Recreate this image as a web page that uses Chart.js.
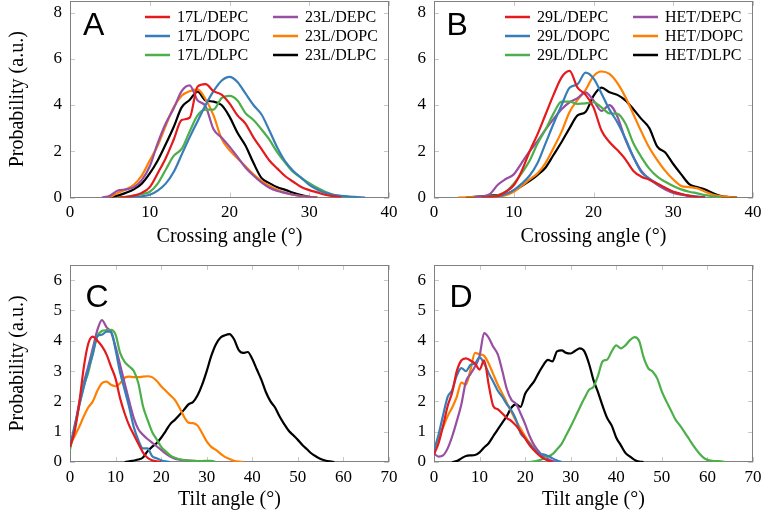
<!DOCTYPE html>
<html>
<head>
<meta charset="utf-8">
<script src="https://cdn.jsdelivr.net/npm/chart.js@4.4.0/dist/chart.umd.min.js"></script>
<style>
  html, body { margin: 0; padding: 0; background: #fff; }
  #wrap { position: relative; width: 768px; height: 518px; overflow: hidden; }
  canvas { position: absolute; }
</style>
</head>
<body>
<div id="wrap">
  <canvas id="chartA" width="400" height="252" style="left:0;top:0"></canvas>
  <canvas id="chartB" width="368" height="252" style="left:400px;top:0"></canvas>
  <canvas id="chartC" width="400" height="263" style="left:0;top:255px"></canvas>
  <canvas id="chartD" width="368" height="263" style="left:400px;top:255px"></canvas>
</div>
<script>
// ---------- DATOS ----------
const xTicksCrossing = [0, 10, 20, 30, 40];
const yTicksCrossing = [0, 2, 4, 6, 8];
const xTicksTilt = [0, 10, 20, 30, 40, 50, 60, 70];
const yTicksTilt = [0, 1, 2, 3, 4, 5, 6];

const labelsA = ['17L/DEPC', '17L/DOPC', '17L/DLPC', '23L/DEPC', '23L/DOPC', '23L/DLPC'];
const labelsB = ['29L/DEPC', '29L/DOPC', '29L/DLPC', 'HET/DEPC', 'HET/DOPC', 'HET/DLPC'];
const colores = ['#e41a1c', '#377eb8', '#4daf4a', '#984ea3', '#ff7f00', '#000000'];

// angle (deg) of the first value of each curve, values go in 1 deg steps
const startA = [6, 7, 6, 4, 5, 5];
const cross17lDepc = [0, 0.02, 0.08, 0.2, 0.45, 1.05, 1.7, 2.5, 3.35, 3.45, 4.8, 4.9, 4.6, 4.45, 4.07, 3.55, 3.2, 2.6, 2.1, 1.6, 1.25, 0.92, 0.68, 0.45, 0.32, 0.22, 0.12, 0.06, 0.02];
const cross17lDopc = [0, 0.02, 0.05, 0.12, 0.3, 0.6, 1.1, 1.85, 2.6, 3.3, 4.0, 4.6, 5.05, 5.22, 5.0, 4.5, 4.0, 3.6, 2.9, 2.15, 1.55, 1.15, 0.85, 0.55, 0.35, 0.2, 0.12, 0.07, 0.04, 0.02, 0];
const cross17lDlpc = [0, 0.03, 0.08, 0.15, 0.25, 0.6, 1.2, 1.8, 2.1, 2.85, 3.55, 3.8, 3.8, 4.3, 4.4, 4.2, 3.65, 3.35, 2.95, 2.5, 1.95, 1.5, 1.1, 0.85, 0.62, 0.42, 0.25, 0.12, 0.06, 0.03, 0];
const cross23lDepc = [0, 0.08, 0.3, 0.35, 0.45, 0.75, 1.35, 2.35, 3.2, 3.85, 4.6, 4.85, 4.2, 3.95, 2.95, 2.6, 2.2, 1.75, 1.3, 0.95, 0.65, 0.42, 0.28, 0.2, 0.12, 0.06, 0.02, 0];
const cross23lDopc = [0, 0.2, 0.35, 0.55, 0.95, 1.6, 2.25, 3.1, 3.9, 4.4, 4.6, 4.68, 4.25, 3.55, 2.55, 2.05, 1.7, 1.35, 1.0, 0.72, 0.5, 0.33, 0.2, 0.12, 0.06, 0.02, 0];
const cross23lDlpc = [0, 0.08, 0.2, 0.35, 0.6, 1.04, 1.6, 2.3, 3.05, 3.9, 4.22, 4.58, 4.2, 4.15, 4.0, 3.5, 2.8, 2.25, 1.5, 0.85, 0.62, 0.44, 0.33, 0.2, 0.1, 0.03, 0];

const startB = [6, 6, 6, 5, 3, 4];
const cross29lDepc = [0, 0.02, 0.07, 0.25, 0.53, 1.15, 2.0, 2.75, 3.6, 4.45, 5.2, 5.48, 4.75, 4.45, 3.9, 2.9, 2.4, 2.05, 1.65, 1.15, 0.9, 0.77, 0.6, 0.42, 0.25, 0.15, 0.07, 0.02, 0];
const cross29lDopc = [0, 0.02, 0.05, 0.15, 0.32, 0.6, 0.95, 1.5, 2.35, 3.2, 4.0, 4.75, 4.9, 5.4, 5.15, 4.5, 3.8, 3.25, 2.55, 1.75, 1.1, 0.82, 0.6, 0.4, 0.25, 0.15, 0.08, 0.04, 0];
const cross29lDlpc = [0, 0.03, 0.1, 0.25, 0.6, 1.05, 1.6, 2.35, 2.95, 3.64, 4.15, 4.15, 4.05, 4.07, 4.12, 3.9, 3.64, 3.62, 3.2, 2.35, 1.75, 1.25, 0.9, 0.68, 0.5, 0.35, 0.25, 0.18, 0.1, 0.05, 0];
const crossHetDepc = [0, 0.05, 0.15, 0.55, 0.8, 1.0, 1.5, 2.0, 2.45, 2.95, 3.4, 3.82, 4.12, 4.3, 4.55, 4.2, 3.75, 4.0, 3.5, 2.5, 1.75, 1.15, 0.8, 0.55, 0.35, 0.2, 0.12, 0.06, 0.03, 0];
const crossHetDopc = [0, 0.01, 0.02, 0.03, 0.04, 0.05, 0.1, 0.25, 0.5, 0.78, 1.05, 1.5, 2.15, 2.85, 3.7, 4.22, 4.65, 5.25, 5.45, 5.35, 4.95, 4.35, 3.6, 2.85, 2.15, 1.62, 1.15, 0.78, 0.5, 0.45, 0.4, 0.25, 0.12, 0.05, 0.02, 0];
const crossHetDlpc = [0, 0.03, 0.05, 0.08, 0.1, 0.14, 0.3, 0.5, 0.72, 0.98, 1.3, 1.85, 2.4, 3.0, 3.55, 3.7, 4.4, 4.75, 4.55, 4.44, 4.2, 3.82, 3.4, 3.0, 2.2, 1.95, 1.45, 1.0, 0.58, 0.45, 0.35, 0.18, 0.06, 0.02, 0];

const startC = [0, 0, 0, 0, 0, 12];
const tilt17lDepc = [0.5, 1.0, 1.9, 3.1, 3.9, 4.14, 4.0, 3.82, 3.55, 3.15, 2.75, 2.1, 1.6, 1.2, 0.9, 0.6, 0.32, 0.14, 0.06, 0.02, 0];
const tilt17lDopc = [0.5, 1.2, 1.85, 2.45, 3.05, 3.55, 4.15, 4.2, 4.3, 4.3, 3.7, 2.95, 2.38, 1.8, 1.15, 0.72, 0.45, 0.45, 0.2, 0.12, 0.06, 0.02, 0];
const tilt17lDlpc = [0.4, 1.1, 1.85, 2.5, 2.95, 3.6, 4.15, 4.32, 4.35, 4.36, 4.2, 3.6, 3.3, 3.15, 3.0, 2.6, 1.85, 1.4, 1.0, 0.75, 0.5, 0.35, 0.22, 0.14, 0.09, 0.06, 0.05, 0.04, 0.03, 0.03, 0.04, 0.04, 0];
const tilt23lDepc = [0.5, 1.1, 1.95, 2.6, 3.15, 3.75, 4.35, 4.68, 4.45, 4.28, 3.8, 3.2, 2.6, 2.0, 1.45, 1.08, 0.9, 0.76, 0.64, 0.52, 0.4, 0.28, 0.18, 0.11, 0.08, 0.06, 0.05, 0.04, 0.03, 0.02, 0.01, 0];
const tilt23lDopc = [0.55, 0.85, 1.15, 1.5, 1.8, 2.0, 2.35, 2.6, 2.65, 2.55, 2.5, 2.6, 2.78, 2.82, 2.8, 2.8, 2.82, 2.83, 2.8, 2.68, 2.5, 2.35, 2.2, 2.05, 1.8, 1.5, 1.3, 1.28, 1.2, 0.95, 0.68, 0.5, 0.4, 0.28, 0.17, 0.1, 0.04, 0.01, 0];
const tilt23lDlpc = [0, 0.02, 0.05, 0.08, 0.15, 0.35, 0.5, 0.62, 0.8, 1.02, 1.25, 1.39, 1.55, 1.72, 1.9, 1.98, 2.2, 2.55, 3.0, 3.5, 3.88, 4.1, 4.18, 4.22, 4.05, 3.7, 3.6, 3.63, 3.4, 3.05, 2.71, 2.3, 2.0, 1.8, 1.5, 1.25, 1.03, 0.88, 0.73, 0.56, 0.42, 0.28, 0.18, 0.1, 0.05, 0.02, 0];

const startD = [0, 0, 21, 0, 0, 4];
const tilt29lDepc = [0.25, 0.62, 1.2, 1.85, 2.3, 3.0, 3.35, 3.42, 3.35, 3.25, 3.05, 3.35, 2.55, 1.85, 1.74, 1.6, 1.45, 1.35, 1.2, 1.0, 0.78, 0.55, 0.38, 0.23, 0.12, 0.05, 0];
const tilt29lDopc = [0.4, 0.9, 1.55, 2.15, 2.38, 2.85, 3.1, 3.0, 3.2, 3.25, 3.45, 3.25, 2.93, 2.65, 2.35, 2.15, 1.9, 1.7, 1.4, 0.95, 0.78, 0.6, 0.42, 0.29, 0.25, 0.2, 0.12, 0.05, 0];
const tilt29lDlpc = [0, 0.02, 0.06, 0.11, 0.18, 0.26, 0.42, 0.6, 0.88, 1.17, 1.48, 1.8, 2.1, 2.38, 2.48, 2.85, 3.32, 3.38, 3.65, 3.85, 3.75, 3.85, 4.02, 4.12, 4.0, 3.45, 3.1, 2.98, 2.75, 2.32, 2.0, 1.7, 1.4, 1.2, 0.98, 0.75, 0.52, 0.32, 0.16, 0.07, 0.04, 0.03, 0.02, 0];
const tiltHetDepc = [0.28, 0.18, 0.22, 0.45, 0.85, 1.35, 1.9, 2.65, 2.9, 3.15, 3.5, 4.25, 4.1, 3.8, 3.55, 3.0, 2.4, 2.05, 1.92, 1.6, 1.25, 0.85, 0.55, 0.35, 0.18, 0.1, 0.03, 0];
const tiltHetDopc = [0.4, 0.78, 1.15, 1.52, 1.8, 2.15, 2.62, 2.55, 3.04, 3.6, 3.55, 3.5, 3.25, 2.9, 2.55, 2.25, 1.95, 1.65, 1.35, 1.1, 0.85, 0.63, 0.45, 0.28, 0.15, 0.07, 0.02, 0];
const tiltHetDlpc = [0, 0.03, 0.12, 0.2, 0.22, 0.23, 0.32, 0.48, 0.62, 0.85, 1.08, 1.3, 1.52, 1.8, 1.9, 1.82, 2.25, 2.47, 2.67, 2.95, 3.2, 3.37, 3.32, 3.65, 3.68, 3.6, 3.58, 3.67, 3.75, 3.65, 3.25, 2.7, 2.3, 1.85, 1.45, 1.2, 0.8, 0.55, 0.3, 0.18, 0.07, 0.01, 0];

// ---------- ESTILOS ----------
const serif = 'Liberation Serif';

// marco, marcas de eje hacia dentro, letra del panel y leyenda
const panelPlugin = {
    id: 'panel',
    beforeDatasetsDraw(chart) {
        const ctx = chart.ctx;
        const a = chart.chartArea;
        const xs = chart.scales.x;
        const ys = chart.scales.y;
        ctx.save();
        ctx.lineWidth = 1;
        ctx.strokeStyle = '#c8c8c8';
        ctx.beginPath();
        xs.ticks.forEach(t => {
            const px = Math.round(xs.getPixelForValue(t.value)) + 0.5;
            ctx.moveTo(px, a.bottom); ctx.lineTo(px, a.bottom - 5);
            ctx.moveTo(px, a.top); ctx.lineTo(px, a.top + 5);
        });
        ys.ticks.forEach(t => {
            const py = Math.round(ys.getPixelForValue(t.value)) + 0.5;
            ctx.moveTo(a.left, py); ctx.lineTo(a.left + 5, py);
            ctx.moveTo(a.right, py); ctx.lineTo(a.right - 5, py);
        });
        ctx.stroke();
        ctx.strokeStyle = '#808080';
        ctx.strokeRect(Math.round(a.left) + 0.5, Math.round(a.top) + 0.5,
            Math.round(a.width) - 1, Math.round(a.height) - 1);
        ctx.restore();
    },
    afterDatasetsDraw(chart, args, opts) {
        const ctx = chart.ctx;
        const a = chart.chartArea;
        ctx.save();
        ctx.fillStyle = '#000';
        ctx.font = '32px "Liberation Sans"';
        ctx.textBaseline = 'alphabetic';
        ctx.fillText(opts.letter, a.left + opts.letterPos[0], a.top + opts.letterPos[1]);

        if (opts.legendX) {
            ctx.font = '16px "' + serif + '"';
            ctx.textBaseline = 'middle';
            chart.data.datasets.forEach((ds, i) => {
                const x = a.left + opts.legendX[Math.floor(i / 3)];
                const y = a.top + opts.legendY[i % 3];
                ctx.strokeStyle = ds.borderColor;
                ctx.lineWidth = 2.5;
                ctx.beginPath();
                ctx.moveTo(x, y); ctx.lineTo(x + 25, y);
                ctx.stroke();
                ctx.fillText(ds.label, x + 32, y + 1);
            });
        }
        ctx.restore();
    }
};

function buildDatasets(labels, series, starts) {
    return series.map((vals, i) => ({
        label: labels[i],
        data: vals.map((v, k) => ({ x: starts[i] + k, y: v })),
        borderColor: colores[i],
        borderWidth: 2.2,
        pointRadius: 0,
        fill: false,
        cubicInterpolationMode: 'monotone'
    }));
}

function makeChart(id, cfg) {
    const yTitle = cfg.yTitle !== undefined;
    return new Chart(document.getElementById(id), {
        type: 'line',
        data: { datasets: buildDatasets(cfg.labels, cfg.series, cfg.starts) },
        plugins: [panelPlugin],
        options: {
            responsive: false,
            animation: false,
            devicePixelRatio: 1,
            layout: { padding: cfg.padding },
            scales: {
                x: {
                    type: 'linear',
                    min: 0,
                    max: cfg.xMax,
                    grid: { display: false, drawTicks: false },
                    border: { display: false },
                    ticks: { color: '#000', font: { family: serif, size: 17 }, padding: 5, maxRotation: 0, autoSkip: false },
                    afterBuildTicks: s => { s.ticks = cfg.xTicks.map(v => ({ value: v })); },
                    afterFit: s => { s.height = cfg.xHeight; s.paddingLeft = 0; s.paddingRight = 0; },
                    title: {
                        display: true,
                        text: cfg.xTitle,
                        color: '#000',
                        font: { family: serif, size: 20 },
                        padding: { top: 0, bottom: cfg.xTitlePad }
                    }
                },
                y: {
                    type: 'linear',
                    min: 0,
                    max: cfg.yMax,
                    grid: { display: false, drawTicks: false },
                    border: { display: false },
                    ticks: { color: '#000', font: { family: serif, size: 17 }, padding: 8, autoSkip: false },
                    afterBuildTicks: s => { s.ticks = cfg.yTicks.map(v => ({ value: v })); },
                    afterFit: s => { s.width = cfg.yWidth; s.paddingTop = 0; s.paddingBottom = 0; },
                    title: {
                        display: yTitle,
                        text: cfg.yTitle,
                        color: '#000',
                        font: { family: serif, size: 20 },
                        padding: { top: 6, bottom: 0 }
                    }
                }
            },
            plugins: {
                legend: { display: false },
                tooltip: { enabled: false },
                panel: {
                    letter: cfg.letter,
                    letterPos: cfg.letterPos,
                    legendX: cfg.legendX,
                    legendY: [16, 35, 54]
                }
            }
        }
    });
}

// ---------- INICIALIZAR TODO ----------
makeChart('chartA', {
    labels: labelsA,
    series: [cross17lDepc, cross17lDopc, cross17lDlpc, cross23lDepc, cross23lDopc, cross23lDlpc],
    starts: startA,
    xMax: 40, yMax: 8.5, xTicks: xTicksCrossing, yTicks: yTicksCrossing,
    xTitle: 'Crossing angle (°)', yTitle: 'Probability (a.u.)',
    padding: { top: 1, right: 11, left: 0, bottom: 0 },
    xHeight: 54.5, yWidth: 70, xTitlePad: 3,
    letter: 'A', letterPos: [13, 34], legendX: [75, 203]
});

makeChart('chartB', {
    labels: labelsB,
    series: [cross29lDepc, cross29lDopc, cross29lDlpc, crossHetDepc, crossHetDopc, crossHetDlpc],
    starts: startB,
    xMax: 40, yMax: 8.5, xTicks: xTicksCrossing, yTicks: yTicksCrossing,
    xTitle: 'Crossing angle (°)',
    padding: { top: 1, right: 15, left: 0, bottom: 0 },
    xHeight: 54.5, yWidth: 34, xTitlePad: 3,
    letter: 'B', letterPos: [12.5, 34], legendX: [71, 199]
});

makeChart('chartC', {
    labels: labelsA,
    series: [tilt17lDepc, tilt17lDopc, tilt17lDlpc, tilt23lDepc, tilt23lDopc, tilt23lDlpc],
    starts: startC,
    xMax: 70, yMax: 6.5, xTicks: xTicksTilt, yTicks: yTicksTilt,
    xTitle: 'Tilt angle (°)', yTitle: 'Probability (a.u.)',
    padding: { top: 10, right: 11, left: 0, bottom: 0 },
    xHeight: 56, yWidth: 70, xTitlePad: 6,
    letter: 'C', letterPos: [15.5, 42]
});

makeChart('chartD', {
    labels: labelsB,
    series: [tilt29lDepc, tilt29lDopc, tilt29lDlpc, tiltHetDepc, tiltHetDopc, tiltHetDlpc],
    starts: startD,
    xMax: 70, yMax: 6.5, xTicks: xTicksTilt, yTicks: yTicksTilt,
    xTitle: 'Tilt angle (°)',
    padding: { top: 10, right: 15, left: 0, bottom: 0 },
    xHeight: 56, yWidth: 34, xTitlePad: 6,
    letter: 'D', letterPos: [15.5, 42]
});
</script>
</body>
</html>
